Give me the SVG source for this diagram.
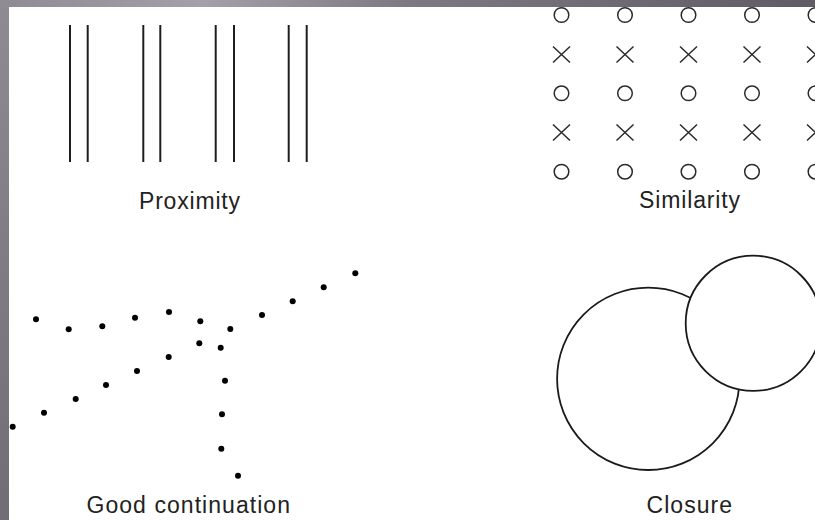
<svg xmlns="http://www.w3.org/2000/svg" width="815" height="520" viewBox="0 0 815 520">
  <defs>
    <linearGradient id="topBand" x1="0" y1="0" x2="1" y2="0">
      <stop offset="0" stop-color="#8e8b92"/>
      <stop offset="0.25" stop-color="#a3a0a7"/>
      <stop offset="0.5" stop-color="#7c7980"/>
      <stop offset="1" stop-color="#5f5c63"/>
    </linearGradient>
    <linearGradient id="leftBand" x1="0" y1="0" x2="0" y2="1">
      <stop offset="0" stop-color="#8e8c92"/>
      <stop offset="1" stop-color="#706e74"/>
    </linearGradient>
    <g id="ring"><circle r="7.3" class="sym"/></g>
    <g id="cross"><path d="M-8.5,-8 L8.5,8 M-8.5,8 L8.5,-8" class="sym"/></g>
  </defs>
  <style>
    .bar { stroke: #1e1e1e; stroke-width: 2; }
    .sym { fill: none; stroke: #2a2a2a; stroke-width: 1.5; }
    .dot { fill: #000; }
    .ring { fill: #fff; stroke: #1a1a1a; stroke-width: 1.8; }
    .label { font-family: "Liberation Sans", Arial, Helvetica, sans-serif; font-size: 23px; fill: #222; }
  </style>

  <rect x="0" y="0" width="815" height="520" fill="#ffffff"/>
  <rect x="0" y="0" width="9" height="520" fill="url(#leftBand)"/>
  <rect x="0" y="0" width="815" height="7" fill="url(#topBand)"/>

  <g id="proximity">
    <line class="bar" x1="70" y1="25" x2="70" y2="162"/>
    <line class="bar" x1="87.7" y1="25" x2="87.7" y2="162"/>
    <line class="bar" x1="143.3" y1="25" x2="143.3" y2="162"/>
    <line class="bar" x1="160.3" y1="25" x2="160.3" y2="162"/>
    <line class="bar" x1="215.7" y1="25" x2="215.7" y2="162"/>
    <line class="bar" x1="234" y1="25" x2="234" y2="162"/>
    <line class="bar" x1="288.7" y1="25" x2="288.7" y2="162"/>
    <line class="bar" x1="306.7" y1="25" x2="306.7" y2="162"/>
    <text class="label" x="139" y="209" textLength="101" lengthAdjust="spacing">Proximity</text>
  </g>

  <g id="similarity">
    <use href="#ring" x="561.5" y="15"/><use href="#ring" x="625" y="15"/><use href="#ring" x="688.5" y="15"/><use href="#ring" x="752" y="15"/><use href="#ring" x="815.5" y="15"/>
    <use href="#cross" x="561.5" y="54.5"/><use href="#cross" x="625" y="54.5"/><use href="#cross" x="688.5" y="54.5"/><use href="#cross" x="752" y="54.5"/><use href="#cross" x="815.5" y="54.5"/>
    <use href="#ring" x="561.5" y="93.3"/><use href="#ring" x="625" y="93.3"/><use href="#ring" x="688.5" y="93.3"/><use href="#ring" x="752" y="93.3"/><use href="#ring" x="815.5" y="93.3"/>
    <use href="#cross" x="561.5" y="132.5"/><use href="#cross" x="625" y="132.5"/><use href="#cross" x="688.5" y="132.5"/><use href="#cross" x="752" y="132.5"/><use href="#cross" x="815.5" y="132.5"/>
    <use href="#ring" x="561.5" y="171.7"/><use href="#ring" x="625" y="171.7"/><use href="#ring" x="688.5" y="171.7"/><use href="#ring" x="752" y="171.7"/><use href="#ring" x="815.5" y="171.7"/>
    <text class="label" x="639" y="208" textLength="101" lengthAdjust="spacing">Similarity</text>
  </g>

  <g id="good-continuation">
    <circle class="dot" r="3" cx="36" cy="319.3"/>
    <circle class="dot" r="3" cx="68.7" cy="329.3"/>
    <circle class="dot" r="3" cx="102.3" cy="326.3"/>
    <circle class="dot" r="3" cx="135" cy="317.7"/>
    <circle class="dot" r="3" cx="169" cy="312"/>
    <circle class="dot" r="3" cx="200.3" cy="321.3"/>
    <circle class="dot" r="3" cx="230.3" cy="329"/>
    <circle class="dot" r="3" cx="262" cy="315"/>
    <circle class="dot" r="3" cx="292.7" cy="301.3"/>
    <circle class="dot" r="3" cx="323.7" cy="287.3"/>
    <circle class="dot" r="3" cx="355.3" cy="273.3"/>
    <circle class="dot" r="3" cx="12.7" cy="426.7"/>
    <circle class="dot" r="3" cx="44" cy="412.7"/>
    <circle class="dot" r="3" cx="75.7" cy="399"/>
    <circle class="dot" r="3" cx="106" cy="385"/>
    <circle class="dot" r="3" cx="137" cy="371"/>
    <circle class="dot" r="3" cx="168.7" cy="357"/>
    <circle class="dot" r="3" cx="199.3" cy="343.3"/>
    <circle class="dot" r="3" cx="220.7" cy="347.7"/>
    <circle class="dot" r="3" cx="225" cy="380.7"/>
    <circle class="dot" r="3" cx="222" cy="414.3"/>
    <circle class="dot" r="3" cx="221.3" cy="448.7"/>
    <circle class="dot" r="3" cx="238" cy="475.7"/>
    <text class="label" x="86.5" y="513" textLength="203.5" lengthAdjust="spacing">Good continuation</text>
  </g>

  <g id="closure">
    <circle class="ring" cx="648.3" cy="378.8" r="91.2"/>
    <circle class="ring" cx="753.3" cy="323.3" r="67.6"/>
    <text class="label" x="646.5" y="513" textLength="85.5" lengthAdjust="spacing">Closure</text>
  </g>
</svg>
